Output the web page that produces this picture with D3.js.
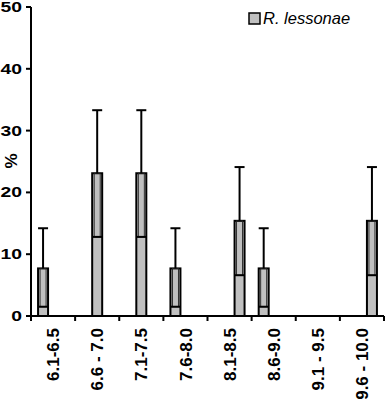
<!DOCTYPE html>
<html>
<head>
<meta charset="utf-8">
<script src="https://cdn.jsdelivr.net/npm/d3@7"></script>
<style>
  body { margin: 0; background: #fff; }
  text { font-family: "Liberation Sans", Arial, sans-serif; }
</style>
</head>
<body>
<div id="chart"></div>
<script>
// size classes (cm) and % of R. lessonae, with lower / upper error limits
const classes = ["6.1-6.5", "6.6 - 7.0", "7.1-7.5", "7.6-8.0", "8.1-8.5", "8.6-9.0", "9.1 - 9.5", "9.6 - 10.0"]
const percent = [7.7, 23.1, 23.1, 7.7, 15.4, 7.7, 0, 15.4]
const lower   = [1.5, 12.8, 12.8, 1.5, 6.6, 1.5, 0, 6.6]
const upper   = [14.2, 33.3, 33.3, 14.2, 24.1, 14.2, 0, 24.1]
// slot of the bar inside its class (original chart had 3 series slots)
const slot    = ["a", "b", "b", "a", "c", "a", "b", "c"]
const yTicks  = [0, 10, 20, 30, 40, 50]
const seriesName = "R. lessonae"

const W = 385, H = 399
const plot = {left: 31, right: 384, top: 7, bottom: 316}
const barFill = "#c0c0c0"

const svg = d3.select("#chart").append("svg")
    .attr("width", W)
    .attr("height", H)

const x = d3.scaleBand()
    .domain(classes)
    .range([plot.left, plot.right])
    .padding(0)

const sub = d3.scaleBand()
    .domain(["a", "b", "c"])
    .range([-15, 15])
    .padding(0)

const y = d3.scaleLinear()
    .domain([0, 50])
    .range([plot.bottom, plot.top])

const data = classes.map((c, i) => ({
    cls: c, v: percent[i], lo: lower[i], hi: upper[i], slot: slot[i]
}))

const barW = sub.bandwidth()
const bx = d => x(d.cls) + x.bandwidth() / 2 + sub(d.slot)
const cx = d => bx(d) + barW / 2

// bars
const bars = svg.append("g").selectAll("g")
    .data(data.filter(d => d.v > 0))
    .join("g")

bars.append("rect")
    .attr("x", bx)
    .attr("y", d => y(d.v))
    .attr("width", barW)
    .attr("height", d => y(0) - y(d.v))
    .attr("fill", barFill)
    .attr("stroke", "#000")
    .attr("stroke-width", 2)

// lower part of the error bar, drawn inside the bar
bars.append("rect")
    .attr("x", d => cx(d) - 3)
    .attr("y", d => y(d.v))
    .attr("width", 6)
    .attr("height", d => y(d.lo) - y(d.v))
    .attr("fill", "none")
    .attr("stroke", "#222")
    .attr("stroke-width", 0.9)

bars.append("line")
    .attr("x1", bx)
    .attr("x2", d => bx(d) + barW)
    .attr("y1", d => y(d.lo))
    .attr("y2", d => y(d.lo))
    .attr("stroke", "#000")
    .attr("stroke-width", 2)

// upper whisker
bars.append("line")
    .attr("x1", cx).attr("x2", cx)
    .attr("y1", d => y(d.v))
    .attr("y2", d => y(d.hi))
    .attr("stroke", "#000")
    .attr("stroke-width", 2)

bars.append("line")
    .attr("x1", d => cx(d) - barW / 2)
    .attr("x2", d => cx(d) + barW / 2)
    .attr("y1", d => y(d.hi))
    .attr("y2", d => y(d.hi))
    .attr("stroke", "#000")
    .attr("stroke-width", 2)

// y axis
const yAxis = svg.append("g")
yAxis.append("line")
    .attr("x1", plot.left).attr("x2", plot.left)
    .attr("y1", y(50)).attr("y2", plot.bottom + 5)
    .attr("stroke", "#000").attr("stroke-width", 2)
yAxis.selectAll(".tick").data(yTicks).join("line")
    .attr("x1", plot.left - 5).attr("x2", plot.left)
    .attr("y1", d => y(d)).attr("y2", d => y(d))
    .attr("stroke", "#000").attr("stroke-width", 2)
yAxis.selectAll(".lab").data(yTicks).join("text")
    .attr("x", 22)
    .attr("y", d => y(d))
    .attr("dy", "0.36em")
    .attr("text-anchor", "end")
    .attr("font-size", "14px")
    .attr("font-weight", "bold")
    .text(d => d)
    .each(function() {
        // labels in the original are drawn wide
        let w = this.getComputedTextLength()
        d3.select(this).attr("textLength", w * 1.38).attr("lengthAdjust", "spacingAndGlyphs")
    })

svg.append("text")
    .attr("transform", "translate(11,161) rotate(-90)")
    .attr("text-anchor", "middle")
    .attr("dy", "0.35em")
    .attr("font-size", "17px")
    .attr("font-weight", "bold")
    .text("%")

// x axis
const xAxis = svg.append("g")
xAxis.append("line")
    .attr("x1", plot.left - 5).attr("x2", plot.right)
    .attr("y1", plot.bottom).attr("y2", plot.bottom)
    .attr("stroke", "#000").attr("stroke-width", 2)
xAxis.selectAll("line.tick").data(classes.concat(["end"])).join("line")
    .attr("class", "tick")
    .attr("x1", (d, i) => plot.left + i * x.bandwidth())
    .attr("x2", (d, i) => plot.left + i * x.bandwidth())
    .attr("y1", plot.bottom).attr("y2", plot.bottom + 5)
    .attr("stroke", "#000").attr("stroke-width", 2)
xAxis.selectAll("text").data(classes).join("text")
    .attr("transform", d => `translate(${x(d) + x.bandwidth() / 2},328) rotate(-90)`)
    .attr("text-anchor", "end")
    .attr("dy", "0.36em")
    .attr("font-size", "17px")
    .attr("font-weight", "bold")
    .text(d => d)

// legend
const legend = svg.append("g")
legend.append("rect")
    .attr("x", 249).attr("y", 13)
    .attr("width", 11).attr("height", 11)
    .attr("fill", barFill)
    .attr("stroke", "#000").attr("stroke-width", 1.5)
legend.append("text")
    .attr("x", 263).attr("y", 24)
    .attr("font-size", "16.5px")
    .attr("font-style", "italic")
    .text(seriesName)
</script>
</body>
</html>
